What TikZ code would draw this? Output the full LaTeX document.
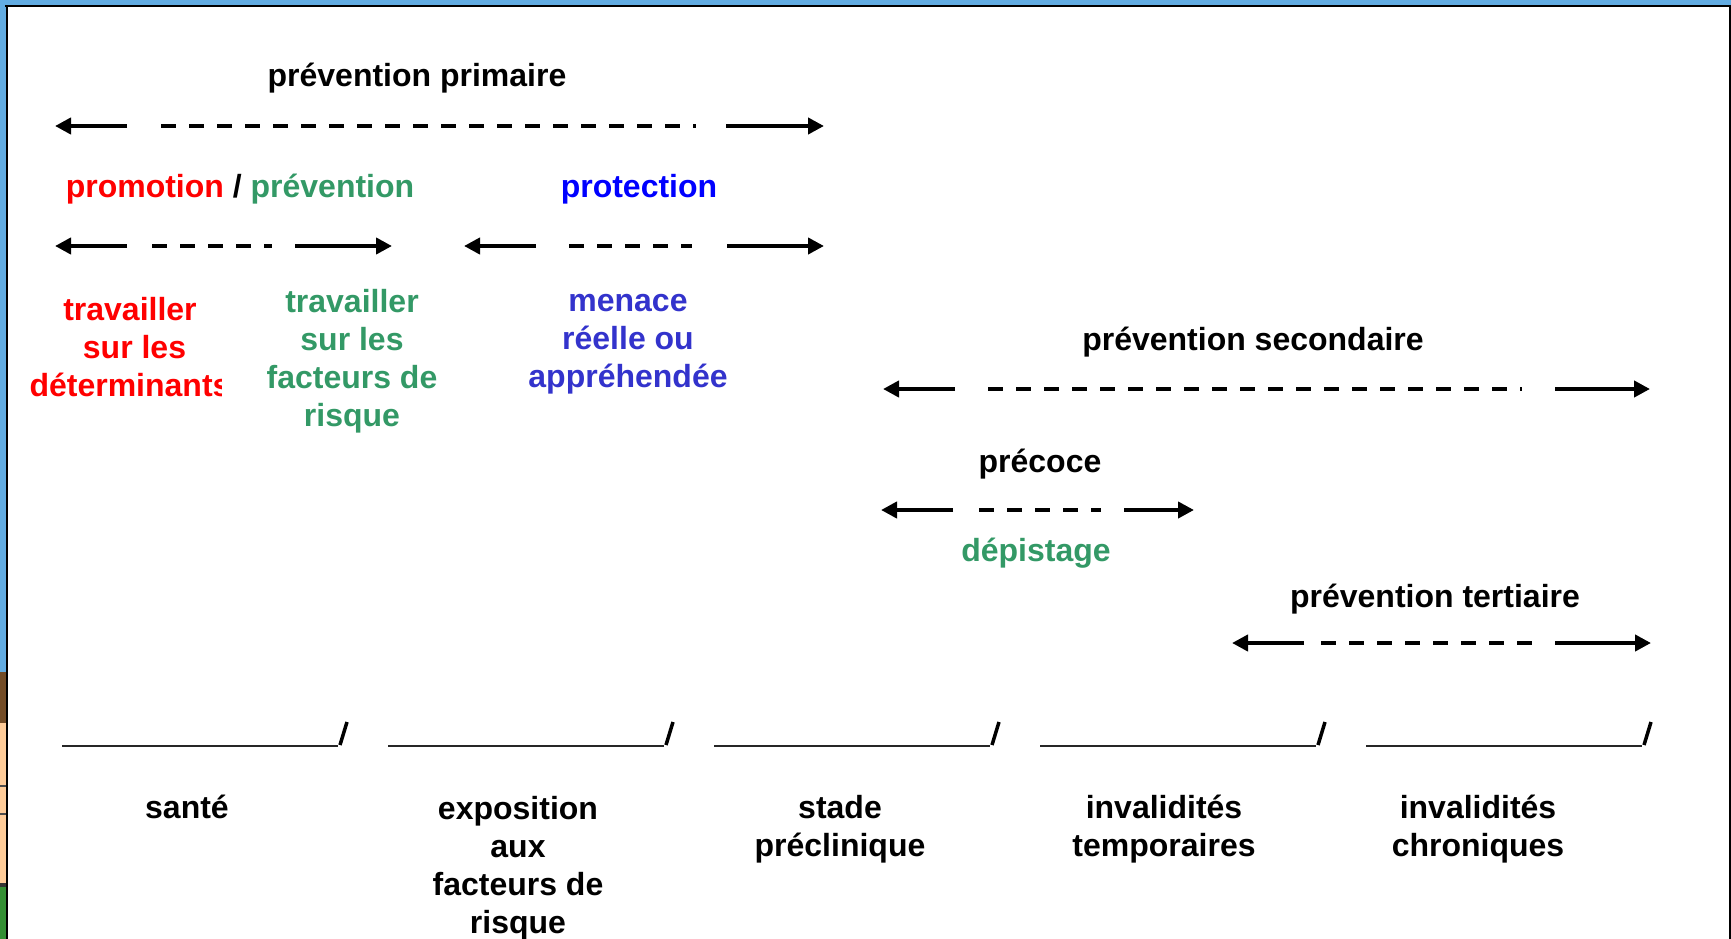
\documentclass[tikz,border=0pt]{standalone}
\usepackage{fontspec}
\setmainfont{Liberation Sans}
\usetikzlibrary{arrows.meta}

\definecolor{rouge}{RGB}{255,0,0}
\definecolor{vert}{RGB}{51,153,102}
\definecolor{bleu}{RGB}{0,0,255}
\definecolor{violet}{RGB}{51,51,204}
\definecolor{cadre}{RGB}{98,172,226}

% fleche double en pointilles : nom, y, puis six abscisses
\newcommand{\etendue}[8]{%
  \coordinate (#1-a) at (#3,#2);
  \coordinate (#1-b) at (#4,#2);
  \coordinate (#1-c) at (#5,#2);
  \coordinate (#1-d) at (#6,#2);
  \coordinate (#1-e) at (#7,#2);
  \coordinate (#1-f) at (#8,#2);
  \draw[trait, fleche] (#1-b) -- (#1-a);
  \draw[trait, tirets] (#1-c) -- (#1-d);
  \draw[trait, fleche] (#1-e) -- (#1-f);
}

\begin{document}
\begin{tikzpicture}[x=1pt, y=-1pt,
    every node/.style={font=\bfseries\fontsize{32}{37.7}\selectfont, inner sep=0pt, align=center, anchor=base},
    trait/.style={line width=4pt},
    fleche/.style={-{Triangle[length=16pt,width=16pt]}},
    tirets/.style={dash pattern=on 15pt off 13pt},
    ligne/.style={line width=2pt, black!85},
    barre/.style={line width=3.5pt}]
    \useasboundingbox (0,0) rectangle (1731,939);

    % Cadre
    \fill[cadre] (0,0) rectangle (1731,5);
    \fill[cadre] (0,0) rectangle (6,672);
    \fill[brown!60!black] (0,672) rectangle (6,723);
    \fill[orange!40] (0,723) rectangle (6,885);
    \fill[black!70] (0,785) rectangle (6,787);
    \fill[black!70] (0,813) rectangle (6,815);
    \fill[black!80] (0,883) rectangle (6,887);
    \fill[green!45!black!80] (0,887) rectangle (6,939);
    \fill[black] (5,5) rectangle (1731,7);
    \fill[black] (6,5) rectangle (8,939);
    \fill[black] (1729,5) rectangle (1731,939);

    % Prevention primaire
    \node (primaire) at (417,87) {prévention primaire};
    \etendue{prim}{126}{55}{127}{161}{696}{726}{824}

    \node (promotion) at (240,197) {\textcolor{rouge}{promotion} / \textcolor{vert}{prévention}};
    \node[bleu] (protection) at (639,197) {protection};
    \etendue{promo}{246}{55}{127}{152}{272}{295}{392}
    \etendue{protec}{246}{464}{536}{569}{692}{727}{824}

    % la derniere ligne sert de ligne de base
    \begin{scope}
        \clip (0,0) rectangle (221,939);
        \node[rouge] (determinants) at (130,396) {travailler\\\hspace*{9pt}sur les\\déterminants};
    \end{scope}
    \node[vert] (facteurs) at (352,426) {travailler\\sur les\\facteurs de\\risque};
    \node[violet] (menace) at (628,387) {menace\\réelle ou\\appréhendée};

    % Prevention secondaire
    \node (secondaire) at (1253,350) {prévention secondaire};
    \etendue{sec}{389}{883}{955}{988}{1522}{1555}{1650}
    \node (precoce) at (1040,472) {précoce};
    \etendue{prec}{510}{881}{953}{979}{1101}{1124}{1194}
    \node[vert] (depistage) at (1036,561) {dépistage};

    % Prevention tertiaire
    \node (tertiaire) at (1435,607) {prévention tertiaire};
    \etendue{tert}{643}{1232}{1304}{1321}{1535}{1555}{1651}

    % Ligne du temps
    \foreach \i in {0,...,4} {
        \draw[ligne] (62+326*\i,746) -- (338+326*\i,746);
        \draw[barre] (340+326*\i,745) -- (347+326*\i,722);
    }
    \node (sante) at (187,818) {santé};
    \node (exposition) at (518,933) {exposition\\aux\\facteurs de\\risque};
    \node (stade) at (840,856) {stade\\préclinique};
    \node (temporaires) at (1164,856) {invalidités\\temporaires};
    \node (chroniques) at (1478,856) {invalidités\\chroniques};
\end{tikzpicture}
\end{document}
